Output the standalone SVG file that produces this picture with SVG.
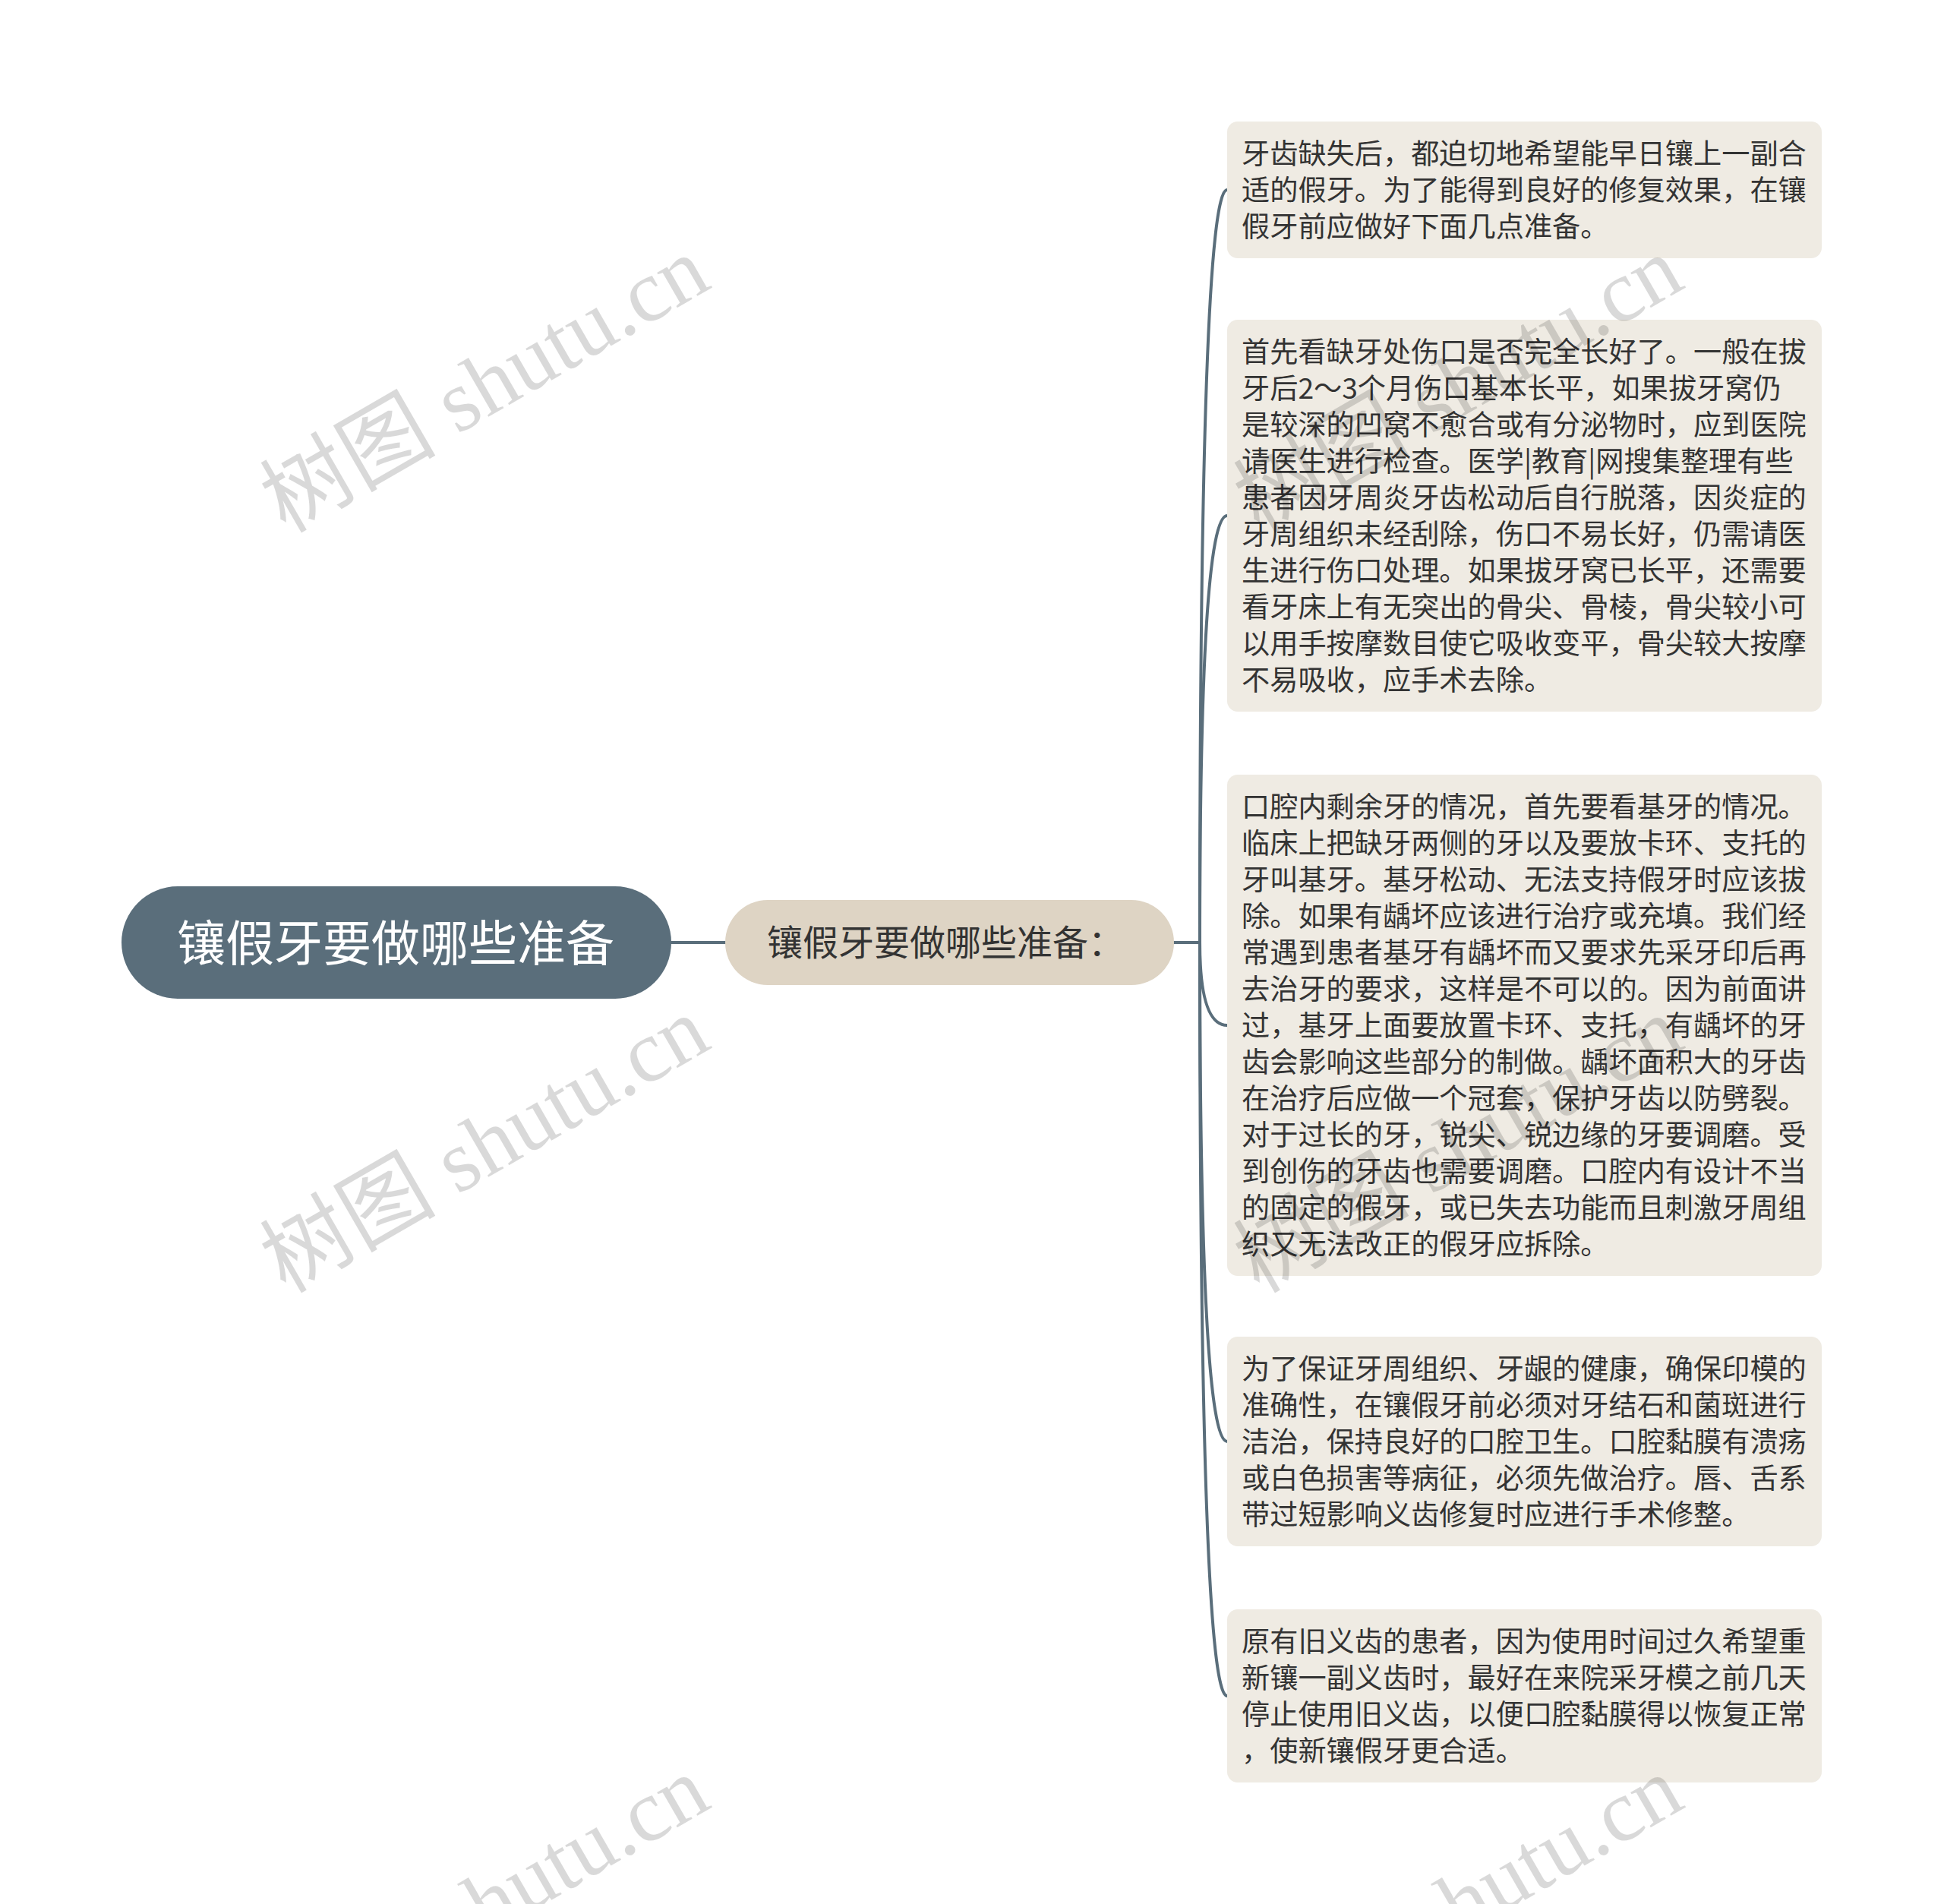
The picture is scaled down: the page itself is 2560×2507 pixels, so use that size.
<svg xmlns="http://www.w3.org/2000/svg" width="2560" height="2507" viewBox="0 0 2560 2507">
<style>
.bg{fill:#ffffff}
.conn{fill:none;stroke:#5a6e7b;stroke-width:4;stroke-linecap:round}
.root{fill:#5a6e7b}
.rootT{fill:#ffffff;font-family:"Noto Sans CJK SC","Noto Sans",sans-serif;font-size:64px}
.mid{fill:#ded4c4}
.midT{fill:#333333;font-family:"Noto Sans CJK SC","Noto Sans",sans-serif;font-size:47px}
.leaf{fill:#efebe3}
.leafT{fill:#333333;font-family:"Noto Sans CJK SC","Noto Sans",sans-serif;font-size:37.2px}
.wm{fill:#000000;fill-opacity:0.15;font-family:"Liberation Serif","Noto Sans CJK SC",serif;font-size:116px}
</style>
<rect class="bg" x="0" y="0" width="2560" height="2507"/>
<g id="connectors">
<path class="conn" d="M884 1241 L955 1241"/>
<path class="conn" d="M1546 1241 L1580 1241"/>
<path class="conn" d="M1580 1241 Q1580 250 1616 250"/>
<path class="conn" d="M1580 1241 Q1580 679 1616 679"/>
<path class="conn" d="M1580 1241 Q1580 1350 1616 1350"/>
<path class="conn" d="M1580 1241 Q1580 1898 1616 1898"/>
<path class="conn" d="M1580 1241 Q1580 2233 1616 2233"/>
</g>
<g id="root">
<rect class="root" x="160" y="1167" width="724" height="148" rx="74"/>
<text class="rootT" x="233" y="1265">镶假牙要做哪些准备</text>
</g>
<g id="mid">
<rect class="mid" x="955" y="1185" width="591" height="112" rx="56"/>
<text class="midT" x="1010" y="1258">镶假牙要做哪些准备：</text>
</g>
<g id="leaf1">
<rect class="leaf" x="1616" y="160" width="783" height="180" rx="14"/>
<text class="leafT">
<tspan x="1635" y="216">牙齿缺失后，都迫切地希望能早日镶上一副合</tspan>
<tspan x="1635" y="264">适的假牙。为了能得到良好的修复效果，在镶</tspan>
<tspan x="1635" y="312">假牙前应做好下面几点准备。</tspan>
</text>
</g>
<g id="leaf2">
<rect class="leaf" x="1616" y="421" width="783" height="516" rx="14"/>
<text class="leafT">
<tspan x="1635" y="477">首先看缺牙处伤口是否完全长好了。一般在拔</tspan>
<tspan x="1635" y="525">牙后2～3个月伤口基本长平，如果拔牙窝仍</tspan>
<tspan x="1635" y="573">是较深的凹窝不愈合或有分泌物时，应到医院</tspan>
<tspan x="1635" y="621">请医生进行检查。医学|教育|网搜集整理有些</tspan>
<tspan x="1635" y="669">患者因牙周炎牙齿松动后自行脱落，因炎症的</tspan>
<tspan x="1635" y="717">牙周组织未经刮除，伤口不易长好，仍需请医</tspan>
<tspan x="1635" y="765">生进行伤口处理。如果拔牙窝已长平，还需要</tspan>
<tspan x="1635" y="813">看牙床上有无突出的骨尖、骨棱，骨尖较小可</tspan>
<tspan x="1635" y="861">以用手按摩数目使它吸收变平，骨尖较大按摩</tspan>
<tspan x="1635" y="909">不易吸收，应手术去除。</tspan>
</text>
</g>
<g id="leaf3">
<rect class="leaf" x="1616" y="1020" width="783" height="660" rx="14"/>
<text class="leafT">
<tspan x="1635" y="1076">口腔内剩余牙的情况，首先要看基牙的情况。</tspan>
<tspan x="1635" y="1124">临床上把缺牙两侧的牙以及要放卡环、支托的</tspan>
<tspan x="1635" y="1172">牙叫基牙。基牙松动、无法支持假牙时应该拔</tspan>
<tspan x="1635" y="1220">除。如果有龋坏应该进行治疗或充填。我们经</tspan>
<tspan x="1635" y="1268">常遇到患者基牙有龋坏而又要求先采牙印后再</tspan>
<tspan x="1635" y="1316">去治牙的要求，这样是不可以的。因为前面讲</tspan>
<tspan x="1635" y="1364">过，基牙上面要放置卡环、支托，有龋坏的牙</tspan>
<tspan x="1635" y="1412">齿会影响这些部分的制做。龋坏面积大的牙齿</tspan>
<tspan x="1635" y="1460">在治疗后应做一个冠套，保护牙齿以防劈裂。</tspan>
<tspan x="1635" y="1508">对于过长的牙，锐尖、锐边缘的牙要调磨。受</tspan>
<tspan x="1635" y="1556">到创伤的牙齿也需要调磨。口腔内有设计不当</tspan>
<tspan x="1635" y="1604">的固定的假牙，或已失去功能而且刺激牙周组</tspan>
<tspan x="1635" y="1652">织又无法改正的假牙应拆除。</tspan>
</text>
</g>
<g id="leaf4">
<rect class="leaf" x="1616" y="1760" width="783" height="276" rx="14"/>
<text class="leafT">
<tspan x="1635" y="1816">为了保证牙周组织、牙龈的健康，确保印模的</tspan>
<tspan x="1635" y="1864">准确性，在镶假牙前必须对牙结石和菌斑进行</tspan>
<tspan x="1635" y="1912">洁治，保持良好的口腔卫生。口腔黏膜有溃疡</tspan>
<tspan x="1635" y="1960">或白色损害等病征，必须先做治疗。唇、舌系</tspan>
<tspan x="1635" y="2008">带过短影响义齿修复时应进行手术修整。</tspan>
</text>
</g>
<g id="leaf5">
<rect class="leaf" x="1616" y="2119" width="783" height="228" rx="14"/>
<text class="leafT">
<tspan x="1635" y="2175">原有旧义齿的患者，因为使用时间过久希望重</tspan>
<tspan x="1635" y="2223">新镶一副义齿时，最好在来院采牙模之前几天</tspan>
<tspan x="1635" y="2271">停止使用旧义齿，以便口腔黏膜得以恢复正常</tspan>
<tspan x="1635" y="2319">，使新镶假牙更合适。</tspan>
</text>
</g>
<g id="watermarks">
<text class="wm" transform="translate(376 703) rotate(-30)">树图 shutu.cn</text>
<text class="wm" transform="translate(376 1704) rotate(-30)">树图 shutu.cn</text>
<text class="wm" transform="translate(376 2704) rotate(-30)">树图 shutu.cn</text>
<text class="wm" transform="translate(1658 703) rotate(-30)">树图 shutu.cn</text>
<text class="wm" transform="translate(1658 1704) rotate(-30)">树图 shutu.cn</text>
<text class="wm" transform="translate(1658 2704) rotate(-30)">树图 shutu.cn</text>
</g>
</svg>
